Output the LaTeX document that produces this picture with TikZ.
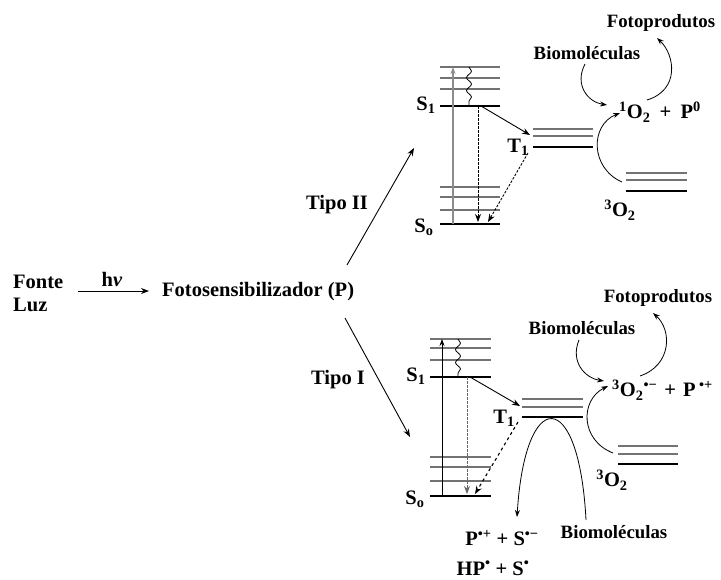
\documentclass[tikz,border=0pt]{standalone}
\usepackage{fontspec}
\setmainfont{Liberation Serif}
\usetikzlibrary{arrows.meta,decorations.pathmorphing}
\begin{document}
\begin{tikzpicture}[x=1pt,y=-1pt,
  txt/.style={font=\fontsize{20.5}{22}\selectfont\bfseries, inner sep=0pt},
  lbl/.style={font=\fontsize{18.8}{20}\selectfont\bfseries, inner sep=0pt},
  thinlvl/.style={draw=black!55, line width=1.2pt},
  thicklvl/.style={draw=black, line width=2.5pt},
  arr/.style={-{Stealth[length=8pt,width=6pt]}, line width=0.9pt},
  curv/.style={-{Stealth[length=7pt,width=5pt]}, line width=0.8pt},
  dotline/.style={dash pattern=on 2.5pt off 1.5pt},
  wavy/.style={decorate, decoration={snake, segment length=13pt, amplitude=2.5pt}, line width=0.8pt}]
\useasboundingbox (0,0) rectangle (721,579);

% ---------- left part ----------
\node[txt,anchor=west] (fonte) at (13,282) {Fonte};
\node[txt,anchor=west] (luz) at (13,305) {Luz};
\node[txt] (hv) at (112,279) {h\textit{ν}};
\node[txt,anchor=west] (foto) at (162,292) {Fotosensibilizador (P)};
\coordinate (hva) at (78,291);
\coordinate (hvb) at (149,291);
\draw[arr] (hva) -- (hvb);

\node[txt] (tipoII) at (337,205) {Tipo II};
\node[txt] (tipoI) at (338,380) {Tipo I};
\coordinate (t2a) at (347,265);
\coordinate (t2b) at (414,148);
\coordinate (t1a) at (345,318);
\coordinate (t1b) at (410,437);
\draw[arr] (t2a) -- (t2b);
\draw[arr] (t1a) -- (t1b);

% ---------- top diagram (Tipo II) ----------
\foreach \y in {67,78,89} \draw[thinlvl] (440,\y) -- (500,\y);
\draw[thicklvl] (440,106) coordinate (uS1a) -- (500,106) coordinate (uS1b);
\foreach \y in {187,197,210} \draw[thinlvl] (440,\y) -- (500,\y);
\draw[thicklvl] (440,224) coordinate (uS0a) -- (500,224) coordinate (uS0b);
\foreach \y in {129,136} \draw[thinlvl] (533,\y) -- (593,\y);
\draw[thicklvl] (533,147) coordinate (uT1a) -- (593,147) coordinate (uT1b);
\foreach \y in {173,180} \draw[thinlvl] (626,\y) -- (687,\y);
\draw[thicklvl] (626,191) coordinate (uOa) -- (687,191) coordinate (uOb);

\node[txt] (uS1) at (426,105) {S\textsubscript{1}};
\node[txt] (uS0) at (424,227) {S\textsubscript{o}};
\node[txt] (uT1) at (518,147) {T\textsubscript{1}};
\node[txt] (u3O2) at (620,210) {\textsuperscript{3}O\textsubscript{2}};
\node[txt,anchor=west] (u1O2) at (619,112) {\textsuperscript{1}O\textsubscript{2}\hspace{0.45em}+\hspace{0.45em}P\textsuperscript{0}};
\node[lbl] (ubio) at (587,53) {Biomoléculas};
\node[lbl] (ufoto) at (661,23) {Fotoprodutos};

\coordinate (uv0) at (453,224); \coordinate (uv1) at (453,67);
\draw[-{Stealth[length=7pt,width=5pt]}, draw=black!45, line width=2.2pt] (uv0) -- (uv1);
\coordinate (uw0) at (469,67); \coordinate (uw1) at (469,106);
\draw[wavy] (uw0) -- (uw1);
\coordinate (ud0) at (478,106); \coordinate (ud1) at (478,222);
\draw[arr,dotline] (ud0) -- (ud1);
\coordinate (ux0) at (481,106); \coordinate (ux1) at (530,135);
\draw[arr] (ux0) -- (ux1);
\coordinate (uy0) at (528,153); \coordinate (uy1) at (488,222);
\draw[arr,dotline] (uy0) -- (uy1);
\coordinate (uc0) at (585,64); \coordinate (uc1) at (607,105);
\draw[curv] (uc0) .. controls (574,85) and (588,102) .. (uc1);
\coordinate (ue0) at (647,100); \coordinate (ue1) at (657,38);
\draw[curv] (ue0) .. controls (680,90) and (675,55) .. (ue1);
\coordinate (uf0) at (622,182); \coordinate (uf1) at (620,113);
\draw[curv] (uf0) .. controls (590,168) and (590,125) .. (uf1);

% ---------- bottom diagram (Tipo I) ----------
\foreach \y in {339,348,360} \draw[thinlvl] (430,\y) -- (491,\y);
\draw[thicklvl] (430,377) coordinate (lS1a) -- (491,377) coordinate (lS1b);
\foreach \y in {457,467,481} \draw[thinlvl] (430,\y) -- (491,\y);
\draw[thicklvl] (430,496) coordinate (lS0a) -- (491,496) coordinate (lS0b);
\foreach \y in {399,407} \draw[thinlvl] (522,\y) -- (583,\y);
\draw[thicklvl] (522,417) coordinate (lT1a) -- (583,417) coordinate (lT1b);
\foreach \y in {446,454} \draw[thinlvl] (618,\y) -- (678,\y);
\draw[thicklvl] (618,464) coordinate (lOa) -- (678,464) coordinate (lOb);

\node[txt] (lS1) at (416,376) {S\textsubscript{1}};
\node[txt] (lS0) at (415,499) {S\textsubscript{o}};
\node[txt] (lT1) at (504,418) {T\textsubscript{1}};
\node[txt] (l3O2) at (612,480) {\textsuperscript{3}O\textsubscript{2}};
\node[txt,anchor=west] (lO2) at (612,390) {\textsuperscript{3}O\textsubscript{2}\textsuperscript{•−}\hspace{0.35em}+\hspace{0.35em}P\,\textsuperscript{•+}};
\node[lbl] (lbio) at (582,328) {Biomoléculas};
\node[lbl] (lfoto) at (658,298) {Fotoprodutos};
\node[lbl] (lbio2) at (614,532) {Biomoléculas};
\node[txt] (lprod1) at (502,538) {P\textsuperscript{•+} + S\textsuperscript{•−}};
\node[txt] (lprod2) at (493,568) {HP\textsuperscript{•} + S\textsuperscript{•}};

\coordinate (lv0) at (442,496); \coordinate (lv1) at (442,339);
\draw[-{Stealth[length=7pt,width=5pt]}, line width=0.7pt] (lv0) -- (lv1);
\coordinate (lw0) at (458,339); \coordinate (lw1) at (458,377);
\draw[wavy] (lw0) -- (lw1);
\coordinate (ld0) at (467,377); \coordinate (ld1) at (467,494);
\draw[arr,dotline,draw=black!60] (ld0) -- (ld1);
\coordinate (lx0) at (470,377); \coordinate (lx1) at (520,406);
\draw[arr] (lx0) -- (lx1);
\coordinate (ly0) at (518,422); \coordinate (ly1) at (475,494);
\draw[arr,dashed,line width=1.1pt] (ly0) -- (ly1);
\coordinate (lc0) at (579,340); \coordinate (lc1) at (604,381);
\draw[curv] (lc0) .. controls (570,362) and (585,378) .. (lc1);
\coordinate (le0) at (640,376); \coordinate (le1) at (653,313);
\draw[curv] (le0) .. controls (672,365) and (672,330) .. (le1);
\coordinate (lf0) at (613,453); \coordinate (lf1) at (608,386);
\draw[curv] (lf0) .. controls (580,440) and (580,400) .. (lf1);
\coordinate (lp0) at (586,520); \coordinate (lp1) at (517,517);
\draw[curv] (lp0) .. controls (579,386) and (525,386) .. (lp1);
\end{tikzpicture}
\end{document}
